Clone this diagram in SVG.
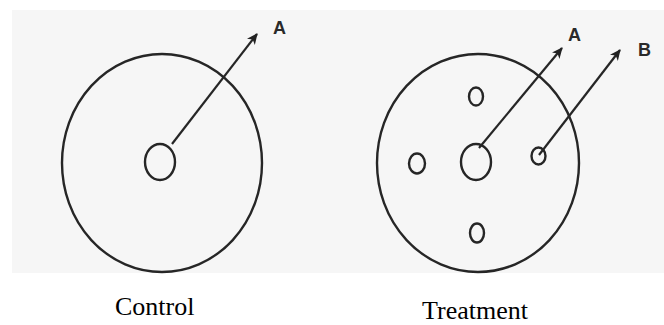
<svg xmlns="http://www.w3.org/2000/svg" width="664" height="325" viewBox="0 0 664 325">
<defs>
<marker id="ah" markerWidth="12" markerHeight="10" refX="10" refY="5" orient="auto" markerUnits="userSpaceOnUse">
<path d="M0,0 L11,5 L0,10 L3,5 Z" fill="#222"/>
</marker>
<style>
.c{fill:none;stroke:#262626;stroke-width:2.4}
.a{fill:none;stroke:#262626;stroke-width:2.2;marker-end:url(#ah)}
.l{font-family:"Liberation Sans",Arial,sans-serif;font-weight:bold;font-size:18px;fill:#2a2a2a}
.t{font-family:"Liberation Serif","Times New Roman",serif;font-size:26px;fill:#000}
</style>
</defs>
<rect x="12" y="10" width="652" height="263" fill="#f6f6f6"/>
<g id="control">
<ellipse class="c" cx="162" cy="163" rx="100" ry="109"/>
<ellipse id="control-well" class="c" cx="160" cy="162" rx="15" ry="18"/>
</g>
<g id="treatment">
<ellipse class="c" cx="478" cy="163" rx="101" ry="109"/>
<ellipse id="treatment-center" class="c" cx="476" cy="162" rx="15" ry="18"/>
<ellipse id="treatment-top" class="c" cx="476" cy="96.5" rx="7" ry="9"/>
<ellipse id="treatment-left" class="c" cx="417" cy="163.5" rx="8" ry="10"/>
<ellipse id="treatment-bottom" class="c" cx="477" cy="233" rx="7" ry="9.5"/>
<ellipse id="treatment-right" class="c" cx="538.5" cy="156" rx="7" ry="8.5"/>
</g>
<g id="connectors">
<line class="a" x1="172" y1="144" x2="257" y2="34"/>
<line class="a" x1="479" y1="148" x2="562" y2="48"/>
<line class="a" x1="539" y1="155" x2="620" y2="50"/>
</g>
<g id="labels">
<text class="l" x="273" y="34">A</text>
<text class="l" x="568" y="41">A</text>
<text class="l" x="638" y="56">B</text>
<text class="t" x="115" y="315">Control</text>
<text class="t" x="422" y="319">Treatment</text>
</g>
</svg>
